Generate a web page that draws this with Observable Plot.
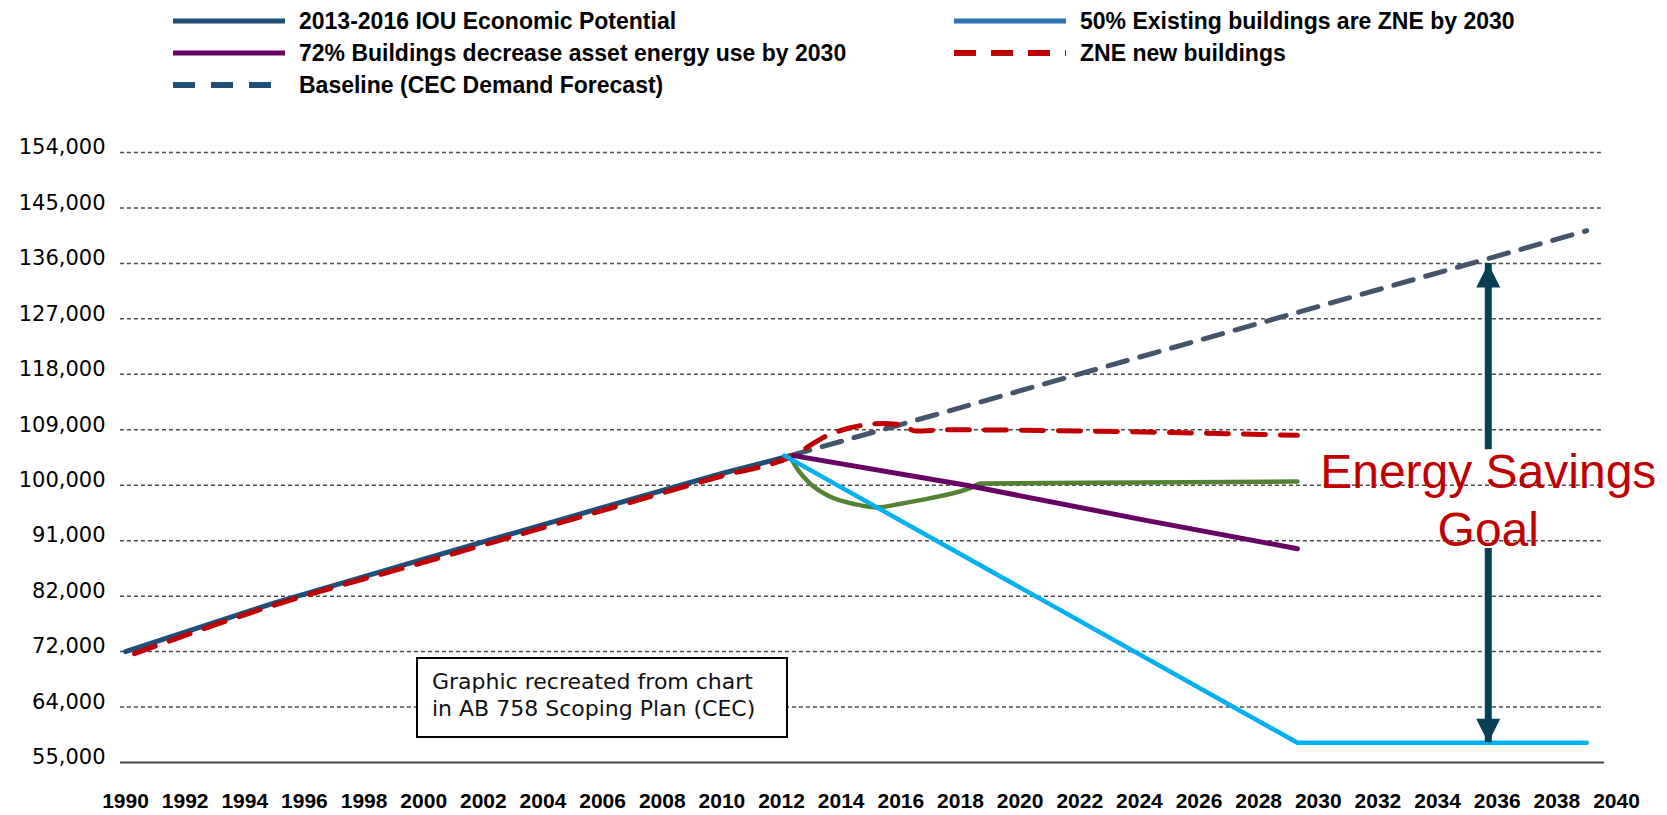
<!DOCTYPE html>
<html><head><meta charset="utf-8">
<script src="https://cdn.jsdelivr.net/npm/d3@7"></script>
<script src="https://cdn.jsdelivr.net/npm/@observablehq/plot@0.6"></script>
<style>
body{margin:0;background:#fff;}
#wrap{position:relative;width:1667px;height:815px;overflow:hidden;background:#fff;}
#legend{position:absolute;left:0;top:0;width:1667px;height:110px;}
.item{position:absolute;display:flex;align-items:center;height:30px;font-family:"Liberation Sans",Arial,sans-serif;font-weight:bold;font-size:23px;color:#000;white-space:nowrap;}
.item svg{margin-right:14px;flex:none;}
#chart{position:absolute;left:0;top:110px;}
#note{position:absolute;left:416px;top:657px;width:372px;height:81px;box-sizing:border-box;border:2.5px solid #000;background:#fff;font-family:"DejaVu Sans",sans-serif;font-size:22px;line-height:27px;padding:9px 0 0 14px;color:#111;white-space:nowrap;}
</style></head>
<body>
<div id="wrap">
  <div id="legend"></div>
  <div id="chart"></div>
  <div id="note">Graphic recreated from chart<br>in AB 758 Scoping Plan (CEC)</div>
</div>
<script>
// ---------- data ----------
const xTicks = [1990,1992,1994,1996,1998,2000,2002,2004,2006,2008,2010,2012,2014,2016,2018,2020,2022,2024,2026,2028,2030,2032,2034,2036,2038,2040];
const yTicks = [55000,64000,72000,82000,91000,100000,109000,118000,127000,136000,145000,154000];

// [year, value]
const iouEconomic = [[1990,72000],[1995,80800],[2000,88000],[2005,95000],[2010,101900],[2012.3,104800]];
const zneNew = [[1990.3,71700],[1995,80400],[2000,87500],[2005,94500],[2010,101500],[2012.3,104600],[2013.6,108200],[2015.4,110000],[2016.0,109800],[2016.5,108800],[2017.6,109000],[2023.4,108700],[2029.3,108100]];
const baseline = [[2012.3,104800],[2039,141300]];
const buildings72 = [[2012.4,104800],[2018.2,100000],[2024,94500],[2029.3,89700]];
const existing50 = [[2012.1,104800],[2029.3,58200],[2039,58200]];
const efficiencyPath = [[2012.3,104500],[2012.55,102500],[2012.95,100300],[2013.6,98200],[2014.5,96900],[2015.2,96400],[2016,97000],[2017,97900],[2018.3,99500],[2018.7,100300],[2024,100450],[2029.3,100600]];
const goalArrow = [{year: 2035.7, top: 136000, upFrom: 109000, downFrom: 86500, bottom: 58200, labelAt: 97900, label: "Energy Savings\nGoal"}];
const gridSpan = [1989.83, 2039.6];

const legendItems = [
  {label: "2013-2016 IOU Economic Potential", color: "#1f4e79", dash: null, col: 0, row: 0},
  {label: "72% Buildings decrease asset energy use by 2030", color: "#660066", dash: null, col: 0, row: 1},
  {label: "Baseline (CEC Demand Forecast)", color: "#1f4e79", dash: "22,16", col: 0, row: 2},
  {label: "50% Existing buildings are ZNE by 2030", color: "#2e75b6", dash: null, col: 1, row: 0},
  {label: "ZNE new buildings", color: "#c00000", dash: "22,15", col: 1, row: 1}
];

// ---------- legend ----------
const colLeft = [173, 954], rowTop = [6, 38, 70];
const leg = document.getElementById("legend");
for (const it of legendItems) {
  const d = document.createElement("div");
  d.className = "item";
  d.style.left = colLeft[it.col] + "px";
  d.style.top = rowTop[it.row] + "px";
  d.innerHTML = `<svg width="112" height="10"><line x1="0" x2="112" y1="5" y2="5" stroke="${it.color}" stroke-width="${it.dash ? 6 : 5}" ${it.dash ? `stroke-dasharray="${it.dash}"` : ""}/></svg><span>${it.label}</span>`;
  leg.appendChild(d);
}

// ---------- chart ----------
const W = 1667, H = 705, MT = 42, MB = 53, ML = 125, MR = 51;
const yRange = yTicks.map((_, i) => (H - MB) - i * (H - MB - MT) / (yTicks.length - 1));

const arrowUp = {draw(ctx, size) { const r = Math.sqrt(size / Math.PI); ctx.moveTo(0, 0); ctx.lineTo(r, 2 * r); ctx.lineTo(-r, 2 * r); ctx.closePath(); }};
const arrowDown = {draw(ctx, size) { const r = Math.sqrt(size / Math.PI); ctx.moveTo(0, 0); ctx.lineTo(r, -2 * r); ctx.lineTo(-r, -2 * r); ctx.closePath(); }};
const arrowColor = "#073f55";

const chart = Plot.plot({
  width: W, height: H,
  marginTop: MT, marginBottom: MB, marginLeft: ML, marginRight: MR,
  style: {background: "white", color: "#000"},
  x: {domain: [1990, 2040]},
  y: {type: "linear", domain: yTicks, range: yRange},
  marks: [
    Plot.ruleY(yTicks.slice(1), {x1: () => gridSpan[0], x2: () => gridSpan[1], y: d => d, stroke: "#4a4a4a", strokeWidth: 1.5, strokeDasharray: "4,3"}),
    Plot.ruleY([yTicks[0]], {x1: () => gridSpan[0], x2: () => gridSpan[1], y: d => d, stroke: "#444", strokeWidth: 2}),
    Plot.axisX({ticks: xTicks, tickSize: 0, tickPadding: 31, tickFormat: d => String(d), fontSize: 21, fontWeight: "bold", fontFamily: "Liberation Sans, Arial, sans-serif"}),
    Plot.axisY({ticks: yTicks, tickSize: 0, tickPadding: 20, tickFormat: d3.format(","), fontSize: 21, fontFamily: "DejaVu Sans, sans-serif", dy: -5}),
    Plot.line(iouEconomic, {x: "0", y: "1", stroke: "#1f4e79", strokeWidth: 5}),
    Plot.line(baseline, {x: "0", y: "1", stroke: "#44546a", strokeWidth: 5, strokeDasharray: "20,13"}),
    Plot.line(zneNew, {x: "0", y: "1", stroke: "#c00000", strokeWidth: 5, strokeDasharray: "22,15", curve: "monotone-x"}),
    Plot.line(efficiencyPath, {x: "0", y: "1", stroke: "#548235", strokeWidth: 4.5, curve: "monotone-x"}),
    Plot.line(existing50, {x: "0", y: "1", stroke: "#00b0f0", strokeWidth: 4.5}),
    Plot.line(buildings72, {x: "0", y: "1", stroke: "#660066", strokeWidth: 5}),
    Plot.ruleX(goalArrow, {x: "year", y1: "upFrom", y2: "top", insetTop: 20, stroke: arrowColor, strokeWidth: 7}),
    Plot.ruleX(goalArrow, {x: "year", y1: "bottom", y2: "downFrom", insetBottom: 20, stroke: arrowColor, strokeWidth: 7}),
    Plot.dot(goalArrow, {x: "year", y: "top", symbol: arrowUp, r: 12, fill: arrowColor, stroke: null}),
    Plot.dot(goalArrow, {x: "year", y: "bottom", symbol: arrowDown, r: 12, fill: arrowColor, stroke: null}),
    Plot.text(goalArrow, {x: "year", y: "labelAt", text: "label", fontSize: 48, lineHeight: 1.22, fill: "#c00000", fontFamily: "Liberation Sans, Arial, sans-serif", textAnchor: "middle"})
  ]
});
document.getElementById("chart").appendChild(chart);
</script>
</body></html>
